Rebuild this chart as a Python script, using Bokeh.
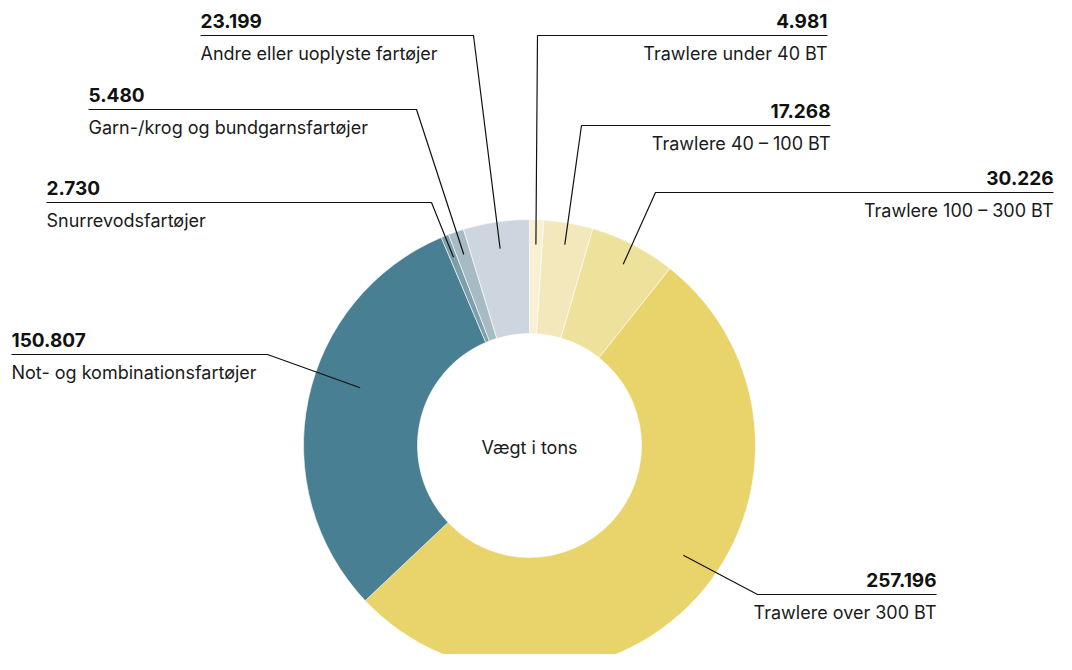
import math
from bokeh.plotting import figure
from bokeh.models import ColumnDataSource, Range1d
from bokeh.core.properties import value
from bokeh.embed import file_html
from bokeh.resources import INLINE

# ---- data ----
categories = ["Trawlere under 40 BT", "Trawlere 40 – 100 BT", "Trawlere 100 – 300 BT",
              "Trawlere over 300 BT", "Not- og kombinationsfartøjer", "Snurrevodsfartøjer",
              "Garn-/krog og bundgarnsfartøjer", "Andre eller uoplyste fartøjer"]
values = [4981, 17268, 30226, 257196, 150807, 2730, 5480, 23199]
colors = ["#f7f0d3", "#f3e8bb", "#eee19c", "#e8d46a", "#487f92", "#7f9eab", "#a8bbc4", "#cdd6de"]
center_label = "Vægt i tons"

# ---- layout (picture pixel coordinates) ----
W, H = 1056, 654
CX, CY = 529, 445
R_IN, R_OUT = 112, 226
side = ["right", "right", "right", "right", "left", "left", "left", "left"]
anchor_x = [827, 830, 1053, 936, 11, 46, 88, 200]
line_y = [35, 125, 192, 594, 354, 202, 109, 35]
elbow_x = [537, 581, 655, 757, 267, 431, 416, 473]
lead_r = [201, 204, 204, 189, 179, 203, 202, 199]
lead_off_deg = [0, 0, 0, -7, 7, 0, 0, 0]

total = sum(values)
starts, ends, mids = [], [], []
acc = 0
for v in values:
    t0 = 2 * math.pi * acc / total
    acc += v
    t1 = 2 * math.pi * acc / total
    starts.append(math.pi / 2 - t0)
    ends.append(math.pi / 2 - t1)
    mids.append((t0 + t1) / 2)

p = figure(width=W, height=H, output_backend="svg", toolbar_location=None,
           x_range=Range1d(0, W), y_range=Range1d(-H, 0),
           x_axis_type=None, y_axis_type=None, min_border=0,
           outline_line_color=None, background_fill_color="white",
           border_fill_color="white")
p.grid.visible = False

wsrc = ColumnDataSource(dict(start=starts, end=ends, color=colors, cat=categories, val=values))
p.annular_wedge(x=CX, y=-CY, inner_radius=R_IN, outer_radius=R_OUT,
                start_angle="start", end_angle="end", direction="clock",
                fill_color="color", line_color="white", line_width=0.6, source=wsrc)

# leader lines
xs, ys = [], []
for i in range(len(values)):
    th = mids[i] + math.radians(lead_off_deg[i])
    ex = CX + lead_r[i] * math.sin(th)
    ey = CY - lead_r[i] * math.cos(th)
    xs.append([anchor_x[i], elbow_x[i], ex])
    ys.append([-line_y[i], -line_y[i], -ey])
p.multi_line(xs=xs, ys=ys, line_color="#111111", line_width=1.2)

nums = [f"{v:,}".replace(",", ".") for v in values]
tsrc = ColumnDataSource(dict(
    x=anchor_x,
    ny=[-(y - 15) for y in line_y],
    ly=[-(y + 18) for y in line_y],
    num=nums, cat=categories, align=side))
p.text(x="x", y="ny", text="num", text_align="align", text_baseline="middle",
       text_font=value("Inter"), text_font_style="bold", text_font_size="19px",
       text_color="#111111", source=tsrc)
p.text(x="x", y="ly", text="cat", text_align="align", text_baseline="middle",
       text_font=value("Inter"), text_font_size="18px",
       text_color="#1a1a1a", source=tsrc)

p.text(x=[CX], y=[-447], text=[center_label], text_align="center", text_baseline="middle",
       text_font=value("Inter"), text_font_size="18px", text_color="#1a1a1a")

open("out.html", "w").write(file_html(p, INLINE))
